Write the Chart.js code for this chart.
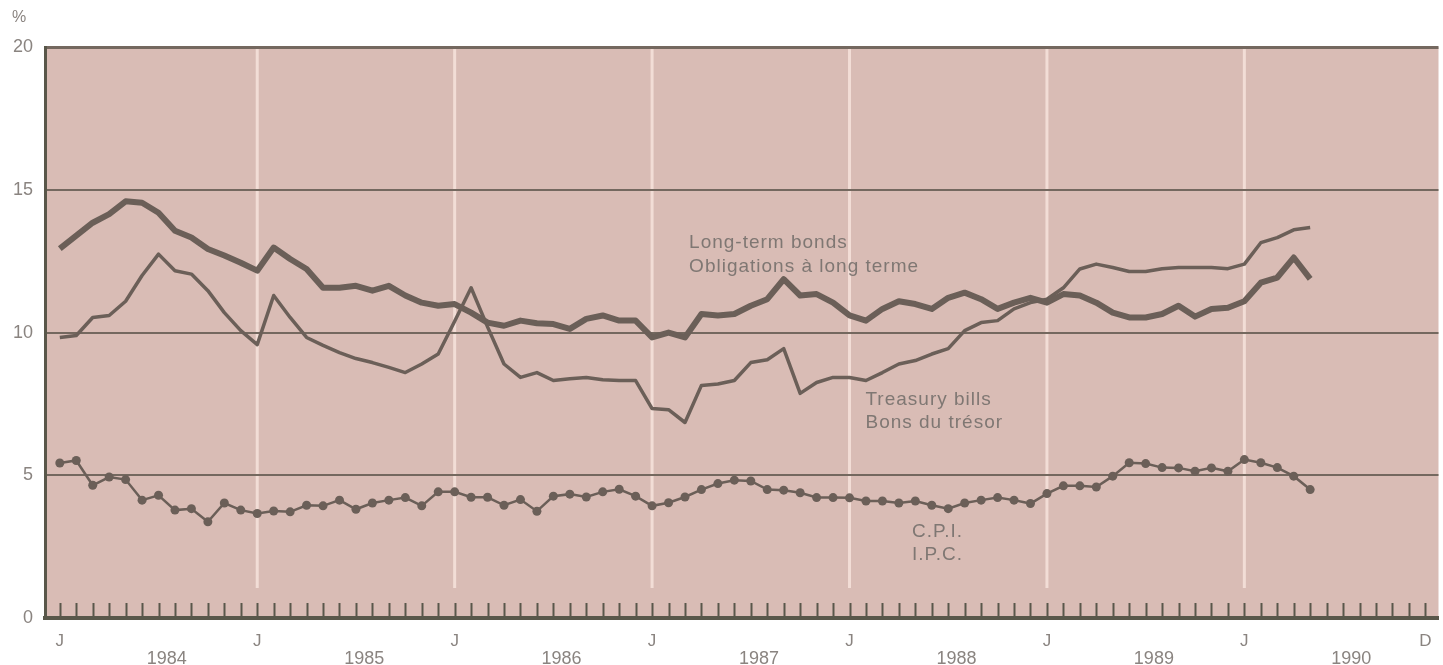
<!DOCTYPE html>
<html>
<head>
<meta charset="utf-8">
<script src="https://cdn.jsdelivr.net/npm/chart.js@4.4.1/dist/chart.umd.min.js"></script>
<style>
  html, body { margin: 0; padding: 0; background: #fff; }
  #wrap { width: 1443px; height: 665px; position: relative; }
</style>
</head>
<body>
<div id="wrap"><canvas id="ratesChart"></canvas></div>
<script>
// Monthly data, Jan 1984 - May 1990
const years = ['1984', '1985', '1986', '1987', '1988', '1989', '1990'];
const monthNames = ['J', 'F', 'M', 'A', 'M', 'J', 'J', 'A', 'S', 'O', 'N', 'D'];

const bonds = [
  12.94, 13.4, 13.85, 14.15, 14.6, 14.55, 14.2, 13.57, 13.33, 12.93, 12.7, 12.45,
  12.17, 12.98, 12.58, 12.23, 11.57, 11.57, 11.64, 11.47, 11.64, 11.3, 11.05, 10.94,
  11.0, 10.7, 10.35, 10.24, 10.42, 10.33, 10.3, 10.13, 10.48, 10.6, 10.42, 10.42,
  9.83, 10.0, 9.83, 10.65, 10.6, 10.65, 10.94, 11.17, 11.87, 11.3, 11.35, 11.05,
  10.6, 10.42, 10.83, 11.1, 11.0, 10.83, 11.22, 11.4, 11.17, 10.83, 11.05, 11.22,
  11.05, 11.35, 11.3, 11.05, 10.7, 10.53, 10.53, 10.65, 10.94, 10.56, 10.83, 10.87,
  11.1, 11.75, 11.93, 12.63, 11.88
];
const tbills = [
  9.83, 9.9, 10.53, 10.6, 11.1, 12.0, 12.75, 12.17, 12.05, 11.47, 10.7, 10.07,
  9.58, 11.3, 10.53, 9.83, 9.55, 9.3, 9.09, 8.95, 8.78, 8.6, 8.9, 9.25,
  10.4, 11.57, 10.2, 8.9, 8.43, 8.6, 8.32, 8.38, 8.43, 8.35, 8.32, 8.32,
  7.34, 7.3, 6.85, 8.15, 8.2, 8.32, 8.95, 9.05, 9.44, 7.87, 8.25, 8.43,
  8.43, 8.32, 8.6, 8.9, 9.02, 9.25, 9.44, 10.07, 10.35, 10.42, 10.83, 11.05,
  11.17, 11.57, 12.23, 12.4, 12.28, 12.14, 12.14, 12.24, 12.28, 12.28, 12.28, 12.24,
  12.4, 13.15, 13.33, 13.6, 13.68
];
const cpi = [
  5.43, 5.52, 4.65, 4.94, 4.85, 4.13, 4.3, 3.78, 3.83, 3.37, 4.03, 3.78,
  3.66, 3.75, 3.72, 3.95, 3.93, 4.13, 3.81, 4.03, 4.13, 4.22, 3.93, 4.42,
  4.42, 4.23, 4.23, 3.95, 4.15, 3.74, 4.27, 4.34, 4.24, 4.42, 4.51, 4.27,
  3.93, 4.04, 4.24, 4.5, 4.71, 4.83, 4.8, 4.5, 4.48, 4.39, 4.22, 4.22,
  4.21, 4.1, 4.1, 4.03, 4.1, 3.95, 3.83, 4.03, 4.13, 4.22, 4.13, 4.01,
  4.36, 4.63, 4.63, 4.59, 4.97, 5.44, 5.41, 5.27, 5.26, 5.14, 5.26, 5.14,
  5.55, 5.44, 5.27, 4.97, 4.5
];

const yTicks = [0, 5, 10, 15, 20];
const xTickValues = [0, 12, 24, 36, 48, 60, 72, 83];
const xTickLabels = ['J', 'J', 'J', 'J', 'J', 'J', 'J', 'D'];

// month labels for the axis (Jan 1984 .. Dec 1990)
const months = [];
years.forEach(y => monthNames.forEach(m => months.push(m + ' ' + y)));

const lineColor = '#6b5f58';
const gridColor = '#74685f';
const axisColor = '#59574a';
const textColor = '#8a8480';
const plotBg = '#d9bcb5';
const fontFamily = '"Liberation Sans", Arial, Helvetica, sans-serif';

const toPoints = arr => arr.map((v, i) => ({ x: i, y: v }));

const plotDecor = {
  id: 'plotDecor',
  beforeDraw(chart) {
    const { ctx, chartArea: a, scales } = chart;
    ctx.save();
    ctx.fillStyle = plotBg;
    ctx.fillRect(a.left, a.top, a.right - a.left, a.bottom - a.top);
    // light January lines
    ctx.strokeStyle = '#f2ddd6';
    ctx.lineWidth = 3;
    const yEnd = scales.y.getPixelForValue(1.05);
    for (let k = 1; k < years.length; k++) {
      const x = scales.x.getPixelForValue(12 * k);
      ctx.beginPath();
      ctx.moveTo(x, a.top);
      ctx.lineTo(x, yEnd);
      ctx.stroke();
    }
    ctx.restore();
  },
  beforeDatasetsDraw(chart) {
    const { ctx, chartArea: a, scales } = chart;
    ctx.save();
    // monthly tick marks pointing up from the base line
    ctx.strokeStyle = axisColor;
    ctx.lineWidth = 2;
    for (let i = 0; i < months.length; i++) {
      const x = Math.round(scales.x.getPixelForValue(i)) + 0.5;
      ctx.beginPath();
      ctx.moveTo(x, a.bottom);
      ctx.lineTo(x, a.bottom - 15);
      ctx.stroke();
    }
    ctx.restore();
  },
  afterDatasetsDraw(chart) {
    const { ctx, scales } = chart;
    const notes = [
      ['Long-term bonds', 38.25, 12.96],
      ['Obligations à long terme', 38.25, 12.12],
      ['Treasury bills', 48.97, 7.46],
      ['Bons du trésor', 48.97, 6.65],
      ['C.P.I.', 51.8, 2.84],
      ['I.P.C.', 51.8, 2.03]
    ];
    ctx.save();
    ctx.fillStyle = '#7f7773';
    ctx.font = '19px ' + fontFamily;
    ctx.letterSpacing = '1px';
    ctx.textAlign = 'left';
    ctx.textBaseline = 'alphabetic';
    notes.forEach(([t, xv, yv]) => {
      ctx.fillText(t, scales.x.getPixelForValue(xv), scales.y.getPixelForValue(yv));
    });
    ctx.restore();
  }
};

const ctx = document.getElementById('ratesChart').getContext('2d');
new Chart(ctx, {
  type: 'line',
  data: {
    datasets: [
      {
        label: 'Long-term bonds',
        data: toPoints(bonds),
        borderColor: lineColor,
        borderWidth: 6,
        pointRadius: 0,
        tension: 0,
        borderJoinStyle: 'round',
        borderCapStyle: 'butt'
      },
      {
        label: 'Treasury bills',
        data: toPoints(tbills),
        borderColor: lineColor,
        borderWidth: 3.5,
        pointRadius: 0,
        tension: 0,
        borderJoinStyle: 'round'
      },
      {
        label: 'C.P.I.',
        data: toPoints(cpi),
        borderColor: lineColor,
        backgroundColor: lineColor,
        borderWidth: 2.5,
        pointRadius: 4.5,
        pointBorderWidth: 0,
        pointBackgroundColor: lineColor,
        tension: 0
      }
    ]
  },
  options: {
    responsive: true,
    maintainAspectRatio: false,
    animation: false,
    layout: { padding: { left: 12, right: 0, top: 0, bottom: 0 } },
    plugins: {
      legend: { display: false },
      tooltip: { enabled: false },
      title: {
        display: true,
        text: '%',
        align: 'start',
        color: textColor,
        font: { family: fontFamily, size: 16, weight: 'normal' },
        padding: { top: 8, bottom: 20 }
      }
    },
    scales: {
      x: {
        type: 'linear',
        position: 'bottom',
        min: -0.9,
        max: 83.8,
        grid: { display: false, drawTicks: false },
        border: { display: true, color: axisColor, width: 4 },
        afterBuildTicks: s => { s.ticks = xTickValues.map(v => ({ value: v })); },
        afterFit: s => { s.height = 30; s.paddingLeft = 0; s.paddingRight = 0; },
        ticks: {
          autoSkip: false,
          maxRotation: 0,
          padding: 13,
          color: textColor,
          font: { family: fontFamily, size: 17 },
          callback: (v, i) => xTickLabels[i]
        }
      },
      x2: {
        type: 'linear',
        position: 'bottom',
        min: -0.9,
        max: 83.8,
        grid: { display: false, drawTicks: false },
        border: { display: false },
        afterBuildTicks: s => { s.ticks = years.map((y, k) => ({ value: 12 * k + 6.5 })); },
        afterFit: s => { s.height = 17; s.paddingLeft = 0; s.paddingRight = 0; },
        ticks: {
          autoSkip: false,
          maxRotation: 0,
          padding: 0,
          color: textColor,
          font: { family: fontFamily, size: 18 },
          callback: (v, i) => years[i]
        }
      },
      y: {
        min: 0,
        max: 20,
        afterBuildTicks: s => { s.ticks = yTicks.map(v => ({ value: v })); },
        afterFit: s => { s.width = 33; },
        grid: {
          color: gridColor,
          lineWidth: c => (c.tick && c.tick.value === 20 ? 3 : 2),
          drawTicks: false
        },
        border: { display: true, color: axisColor, width: 3 },
        ticks: {
          padding: 12,
          color: textColor,
          font: { family: fontFamily, size: 18 }
        }
      }
    }
  },
  plugins: [plotDecor]
});
</script>
</body>
</html>
